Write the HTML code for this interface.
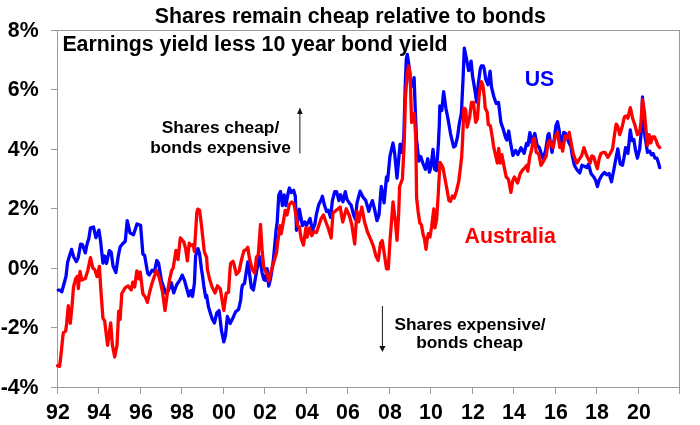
<!DOCTYPE html>
<html lang="en"><head><meta charset="utf-8"><title>Shares remain cheap relative to bonds</title>
<style>
html,body{margin:0;padding:0;background:#fff;}
body{width:700px;height:425px;overflow:hidden;}
svg{display:block;will-change:transform;transform:translateZ(0);}
text{font-family:"Liberation Sans",Arial,Helvetica,sans-serif;font-weight:bold;fill:#000;}
.t{font-size:21.33px;}
.ax{font-size:21.33px;}
.an{font-size:17.33px;}
.lg{font-size:21.33px;}
</style></head><body>
<svg width="700" height="425" viewBox="0 0 700 425">
<rect x="0" y="0" width="700" height="425" fill="#ffffff"/>
<g stroke="#9a9a9a" stroke-width="1" fill="none" shape-rendering="crispEdges">
<rect x="57.5" y="30.5" width="622.0" height="357.0"/>
<line x1="50.5" y1="30.5" x2="57.5" y2="30.5"/>
<line x1="50.5" y1="89.5" x2="57.5" y2="89.5"/>
<line x1="50.5" y1="149.5" x2="57.5" y2="149.5"/>
<line x1="50.5" y1="208.5" x2="57.5" y2="208.5"/>
<line x1="50.5" y1="268.5" x2="57.5" y2="268.5"/>
<line x1="50.5" y1="327.5" x2="57.5" y2="327.5"/>
<line x1="50.5" y1="387.5" x2="57.5" y2="387.5"/>
<line x1="57.5" y1="387.5" x2="57.5" y2="393.5"/>
<line x1="98.5" y1="387.5" x2="98.5" y2="393.5"/>
<line x1="140.5" y1="387.5" x2="140.5" y2="393.5"/>
<line x1="181.5" y1="387.5" x2="181.5" y2="393.5"/>
<line x1="223.5" y1="387.5" x2="223.5" y2="393.5"/>
<line x1="264.5" y1="387.5" x2="264.5" y2="393.5"/>
<line x1="306.5" y1="387.5" x2="306.5" y2="393.5"/>
<line x1="347.5" y1="387.5" x2="347.5" y2="393.5"/>
<line x1="389.5" y1="387.5" x2="389.5" y2="393.5"/>
<line x1="430.5" y1="387.5" x2="430.5" y2="393.5"/>
<line x1="472.5" y1="387.5" x2="472.5" y2="393.5"/>
<line x1="513.5" y1="387.5" x2="513.5" y2="393.5"/>
<line x1="555.5" y1="387.5" x2="555.5" y2="393.5"/>
<line x1="596.5" y1="387.5" x2="596.5" y2="393.5"/>
<line x1="638.5" y1="387.5" x2="638.5" y2="393.5"/>
<line x1="679.5" y1="387.5" x2="679.5" y2="393.5"/>
</g>
<text class="t" x="350.4" y="23.4" text-anchor="middle">Shares remain cheap relative to bonds</text>
<text class="t" x="62.4" y="51">Earnings yield less 10 year bond yield</text>
<text class="ax" x="38.6" y="36.8" text-anchor="end">8%</text>
<text class="ax" x="38.6" y="95.8" text-anchor="end">6%</text>
<text class="ax" x="38.6" y="155.8" text-anchor="end">4%</text>
<text class="ax" x="38.6" y="214.8" text-anchor="end">2%</text>
<text class="ax" x="38.6" y="274.8" text-anchor="end">0%</text>
<text class="ax" x="38.6" y="333.8" text-anchor="end">-2%</text>
<text class="ax" x="38.6" y="393.8" text-anchor="end">-4%</text>
<text class="ax" x="57.9" y="419.4" text-anchor="middle">92</text>
<text class="ax" x="98.9" y="419.4" text-anchor="middle">94</text>
<text class="ax" x="140.9" y="419.4" text-anchor="middle">96</text>
<text class="ax" x="181.9" y="419.4" text-anchor="middle">98</text>
<text class="ax" x="223.9" y="419.4" text-anchor="middle">00</text>
<text class="ax" x="264.9" y="419.4" text-anchor="middle">02</text>
<text class="ax" x="306.9" y="419.4" text-anchor="middle">04</text>
<text class="ax" x="347.9" y="419.4" text-anchor="middle">06</text>
<text class="ax" x="389.9" y="419.4" text-anchor="middle">08</text>
<text class="ax" x="430.9" y="419.4" text-anchor="middle">10</text>
<text class="ax" x="472.9" y="419.4" text-anchor="middle">12</text>
<text class="ax" x="513.9" y="419.4" text-anchor="middle">14</text>
<text class="ax" x="555.9" y="419.4" text-anchor="middle">16</text>
<text class="ax" x="596.9" y="419.4" text-anchor="middle">18</text>
<text class="ax" x="638.9" y="419.4" text-anchor="middle">20</text>
<text class="an" x="220.5" y="133.2" text-anchor="middle">Shares cheap/</text>
<text class="an" x="220.5" y="152.5" text-anchor="middle">bonds expensive</text>
<text class="an" x="470" y="329.5" text-anchor="middle">Shares expensive/</text>
<text class="an" x="469.6" y="348.4" text-anchor="middle">bonds cheap</text>
<g stroke="#1a1a1a" stroke-width="1" fill="#111">
<line x1="299.9" y1="153.5" x2="299.9" y2="112"/><path d="M299.9 107.5 L302.7 114 L297.1 114 Z" stroke="none"/>
<line x1="382.4" y1="306" x2="382.4" y2="347"/><path d="M382.4 352 L385.5 345.9 L379.3 345.9 Z" stroke="none"/>
</g>
<polyline points="58.2,290.1 60.0,290.1 61.8,291.8 64.1,283.5 66.0,276.5 67.6,262.4 69.3,256.5 71.6,249.4 73.5,256.5 76.4,261.6 78.2,257.6 80.6,244.2 82.5,244.7 85.3,252.9 87.2,243.5 88.8,238.8 90.5,227.8 93.5,227.0 95.9,237.6 98.9,230.1 100.6,241.2 102.9,263.0 104.6,256.0 106.5,263.5 109.3,250.6 111.2,252.2 113.0,265.9 115.9,272.5 118.2,256.5 120.1,247.0 122.9,243.5 125.3,241.2 127.2,220.7 130.0,232.9 133.5,234.8 137.0,224.0 140.6,225.4 142.9,254.1 144.6,255.3 147.6,272.9 149.2,275.0 152.0,270.3 154.4,271.5 156.8,260.5 158.6,263.2 161.5,281.0 163.8,287.5 166.0,293.5 168.5,290.4 171.4,282.8 173.7,292.8 176.8,284.5 180.0,279.9 182.2,275.1 184.5,280.4 187.4,291.0 188.8,296.0 190.9,290.6 192.5,296.5 194.4,283.5 195.6,256.2 197.9,248.6 199.6,253.8 201.5,269.4 202.6,276.2 203.8,285.9 205.7,297.6 206.6,295.3 208.5,307.0 212.1,318.8 214.4,323.0 216.8,313.0 219.1,310.6 221.5,330.6 223.8,341.9 225.5,335.3 227.4,316.5 230.2,323.5 232.5,318.8 235.6,311.8 238.6,309.4 240.7,300.0 241.5,290.6 242.4,285.2 244.5,283.5 246.5,270.4 247.8,262.0 249.4,272.8 251.4,287.7 253.4,290.0 255.5,277.8 257.2,267.9 259.3,256.4 260.5,263.0 262.1,272.8 263.8,279.4 265.4,280.2 267.1,268.7 268.7,286.0 270.4,279.4 271.5,272.8 273.2,261.3 274.5,248.0 276.1,230.0 277.2,222.0 278.8,195.0 280.5,191.5 282.4,205.6 284.2,195.0 285.9,205.6 288.2,192.6 289.4,188.0 291.3,192.6 293.6,190.3 295.3,196.2 296.5,230.3 299.3,209.1 300.7,216.2 302.4,225.6 304.7,222.0 306.4,225.6 308.2,222.0 310.1,218.5 312.5,230.3 314.8,224.4 316.5,213.8 318.8,204.4 321.2,199.7 322.4,196.2 324.2,204.4 326.6,211.5 328.2,210.3 330.6,217.4 332.4,200.6 334.7,191.6 336.6,191.6 338.9,200.6 340.6,194.7 342.9,201.8 345.3,191.6 346.9,199.4 349.3,202.9 351.2,205.3 353.5,214.7 355.4,219.4 357.0,202.9 360.1,191.2 362.9,197.0 365.8,200.6 368.8,211.2 370.5,205.3 372.4,200.6 374.2,207.6 377.0,220.6 379.0,214.7 381.3,186.5 384.1,202.9 386.5,177.0 387.6,180.6 390.0,155.9 393.0,143.0 394.7,153.5 397.0,178.2 400.1,144.1 401.8,152.4 403.8,138.0 405.2,87.0 406.3,59.0 407.3,54.3 409.0,66.0 410.8,87.0 413.0,84.7 414.1,77.6 415.3,110.6 416.5,140.0 417.0,143.5 418.8,161.2 420.7,156.5 423.0,163.5 425.4,169.4 427.8,158.8 429.4,172.2 431.0,167.0 433.0,149.4 434.8,169.4 436.5,170.6 438.4,143.5 439.3,125.0 439.8,106.0 441.8,110.5 443.6,91.6 445.9,108.2 448.2,120.0 450.6,134.0 453.6,147.0 455.3,145.9 457.6,136.5 459.2,124.0 461.4,113.0 463.0,80.0 464.3,48.2 466.7,60.0 468.7,70.6 471.1,61.2 472.6,76.5 475.0,90.6 476.6,102.0 478.5,82.4 480.3,68.8 481.3,66.0 483.3,66.0 484.3,69.3 485.6,78.8 487.9,84.7 490.1,71.2 491.5,87.0 493.8,96.5 496.2,103.5 498.5,102.4 500.9,122.4 503.3,129.5 505.7,138.0 506.8,140.0 508.7,131.0 510.4,142.0 512.9,155.5 515.6,150.4 517.8,154.6 521.0,147.8 524.2,153.3 526.5,143.4 528.0,145.2 529.9,132.6 531.9,143.0 534.8,133.5 537.2,145.5 539.3,147.5 541.8,155.5 543.2,158.8 545.7,150.0 548.0,134.7 549.0,133.5 552.0,152.4 554.4,138.2 556.0,125.3 557.5,121.8 559.1,130.0 560.8,146.5 563.8,132.4 565.5,133.5 568.5,141.8 570.9,146.5 572.5,157.0 574.4,165.3 576.8,169.5 579.7,173.0 582.0,165.3 584.9,166.5 586.8,167.6 588.6,164.1 591.0,173.5 593.8,177.0 595.7,180.6 597.4,186.5 599.0,180.6 601.4,175.9 604.4,172.4 606.8,174.7 609.1,173.5 611.5,181.8 613.8,170.0 616.2,157.0 617.8,148.8 620.2,164.1 622.5,165.3 623.9,158.2 625.6,147.6 627.9,153.5 630.3,130.0 631.9,140.6 633.8,139.4 635.7,151.2 637.4,158.2 639.7,148.8 641.4,130.0 642.5,97.0 643.7,125.3 645.1,137.0 647.5,152.4 649.8,151.2 651.5,154.7 653.1,153.5 655.0,158.2 656.9,158.2 658.5,163.0 659.7,167.6" fill="none" stroke="#0000ff" stroke-width="3.3" stroke-linejoin="round" stroke-linecap="round"/>
<polyline points="57.6,365.8 59.6,366.4 61.3,352.0 62.8,337.0 63.4,332.4 65.6,331.3 66.6,324.0 68.3,305.6 70.3,323.4 72.1,305.3 73.5,287.0 75.6,279.0 77.4,276.2 78.3,288.5 80.1,271.5 81.8,280.0 85.3,278.5 87.8,270.4 90.5,257.6 92.8,268.2 94.7,269.4 97.0,276.5 99.4,266.4 100.6,286.0 102.9,318.2 104.6,320.6 107.6,345.3 110.7,323.0 112.4,345.3 114.7,357.0 117.0,345.3 118.7,311.2 120.1,319.4 121.8,293.5 125.3,287.6 128.1,286.0 131.2,290.0 132.8,282.2 134.7,287.0 136.8,271.0 138.9,278.8 140.2,272.0 142.9,293.8 145.3,297.0 147.4,302.4 149.7,292.0 151.8,284.0 156.3,270.4 159.1,277.0 162.6,292.5 165.0,310.6 167.4,293.0 169.7,278.8 171.7,270.4 173.2,268.0 176.0,250.3 178.0,259.7 180.3,237.8 183.8,242.0 185.5,248.0 187.4,260.9 189.2,243.2 190.9,245.6 193.2,244.4 194.4,251.5 196.8,212.6 197.9,209.1 199.6,210.3 201.5,225.6 204.3,251.5 206.6,257.4 207.4,269.4 209.7,279.5 212.1,287.0 215.1,293.0 217.5,285.8 220.3,288.8 223.8,310.6 226.2,293.2 228.5,292.5 230.2,267.0 230.8,263.0 233.0,261.3 234.1,264.6 236.3,274.5 239.1,271.2 241.5,259.7 244.0,250.6 246.1,249.8 247.8,247.3 249.4,258.0 252.2,269.5 254.7,273.2 256.4,257.2 258.3,254.7 260.5,224.4 262.2,252.0 263.8,267.0 265.4,271.2 267.1,273.7 268.7,281.0 270.4,273.7 272.5,266.5 274.5,259.7 276.5,253.0 277.6,243.2 280.0,225.6 281.2,233.8 283.5,220.9 285.2,210.3 287.0,215.0 289.4,204.4 291.8,202.0 294.1,204.4 296.5,218.5 297.6,225.6 299.3,226.8 301.2,238.5 303.5,245.1 305.9,228.0 307.0,237.4 309.4,228.0 311.8,235.7 314.1,231.5 316.5,232.6 318.8,225.6 321.2,218.5 323.5,215.0 325.9,222.0 328.2,228.0 331.2,238.0 333.0,213.0 337.2,209.5 340.2,207.0 342.7,222.0 346.3,208.8 349.3,215.5 351.8,224.7 354.7,244.1 357.0,211.2 358.7,221.8 361.8,207.0 364.5,221.8 367.5,232.0 371.2,240.6 373.5,246.5 375.9,255.9 378.2,260.6 380.6,243.0 382.2,240.6 384.1,252.4 386.5,268.8 388.3,268.8 390.0,240.6 393.0,201.8 395.4,221.8 397.0,240.3 398.7,213.5 399.6,186.5 402.4,179.0 404.2,143.5 405.4,98.8 407.0,75.3 408.7,65.9 410.1,73.0 411.6,122.5 414.4,113.5 415.8,140.0 416.6,198.0 418.1,211.4 419.8,223.0 421.4,224.6 423.1,234.5 424.4,238.6 426.0,249.3 427.2,239.4 428.3,233.7 430.0,237.0 431.6,227.0 433.8,209.0 434.9,227.9 436.6,219.7 438.2,195.0 440.0,162.4 442.8,167.0 445.9,183.5 448.9,200.5 450.4,201.4 452.4,196.0 454.2,198.0 456.5,191.0 458.8,181.2 461.6,157.6 462.6,140.0 463.9,108.2 465.6,109.4 467.2,127.0 469.6,117.6 471.5,102.4 473.4,102.4 475.7,122.4 477.4,118.8 479.0,96.5 480.4,86.0 481.5,81.8 482.9,85.5 484.4,97.6 485.2,108.0 487.2,112.2 488.3,124.5 490.4,125.8 492.5,138.5 493.4,145.3 495.5,155.0 497.3,163.0 498.7,148.5 500.3,163.0 501.9,154.7 504.3,167.6 506.2,177.0 508.5,179.4 510.9,192.4 512.8,180.6 514.4,177.0 517.5,183.0 520.3,173.5 522.6,170.0 525.0,167.6 526.9,165.3 527.8,171.2 529.7,157.0 531.6,150.0 533.2,139.4 534.4,138.2 536.3,152.4 538.6,153.5 541.0,165.3 543.8,160.6 546.2,155.9 548.0,143.0 549.7,140.6 552.0,146.5 553.2,147.6 555.1,137.0 557.5,132.4 559.8,147.6 561.5,144.1 562.6,151.2 565.0,135.9 567.4,138.2 569.2,132.4 571.6,145.3 573.2,153.5 575.5,160.0 576.9,163.0 579.2,159.4 581.6,155.9 583.9,147.6 586.3,154.7 588.6,159.4 590.3,163.0 591.9,155.9 593.8,157.0 596.2,165.3 597.4,168.8 599.0,159.4 600.9,153.5 603.2,152.4 605.0,152.4 607.9,157.3 610.2,153.5 612.6,148.8 614.5,134.7 616.2,124.1 617.8,126.5 619.7,134.7 622.0,127.6 624.4,117.0 626.3,115.9 627.9,118.2 630.3,107.6 632.6,118.2 635.0,125.3 637.4,134.7 639.7,131.2 640.9,123.0 642.5,99.4 644.4,111.2 646.0,130.0 647.5,145.3 649.1,134.7 650.8,143.0 652.6,137.0 654.5,137.0 656.2,140.6 657.8,145.3 659.7,147.6" fill="none" stroke="#ff0000" stroke-width="3.3" stroke-linejoin="round" stroke-linecap="round"/>
<text class="lg" x="524.7" y="85.9" style="fill:#0000ff">US</text>
<text class="lg" x="464.5" y="243.4" style="fill:#ff0000">Australia</text>
</svg></body></html>
